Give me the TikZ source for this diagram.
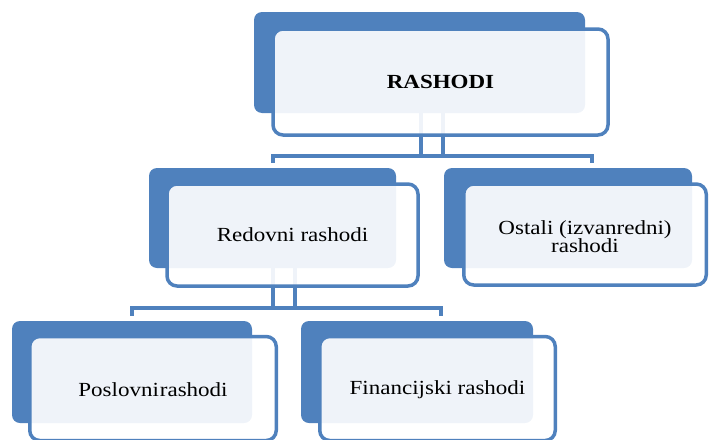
\documentclass[tikz,border=0pt]{standalone}
\usepackage{fontspec}
\setmainfont{Liberation Serif}[FakeStretch=1.15]
\definecolor{sablue}{RGB}{79,129,189}
\tikzset{
  backbox/.style={fill=sablue, rounded corners=8pt, inner sep=0pt},
  frontbox/.style={fill=white, fill opacity=0.91, text opacity=1, draw=sablue, line width=3.5pt,
    rounded corners=10pt, inner sep=0pt, align=center, font=\fontsize{20}{19}\selectfont},
  conn/.style={draw=sablue, line width=4pt}
}
\newcommand{\lowerby}[2]{\raisebox{-#1}[\height][\depth]{#2}}
\begin{document}
\begin{tikzpicture}[x=1pt,y=-1pt]
\useasboundingbox (0,0) rectangle (709,439);
\clip (0,0) rectangle (709,439);
% back boxes
\node[backbox, minimum width=331pt, minimum height=101pt] (topB) at (419.5,62.5) {};
\node[backbox, minimum width=247pt, minimum height=100pt] (redB) at (272.5,218) {};
\node[backbox, minimum width=248pt, minimum height=100pt] (ostB) at (568,218) {};
\node[backbox, minimum width=240pt, minimum height=102pt] (posB) at (132,372) {};
\node[backbox, minimum width=232pt, minimum height=102pt] (finB) at (417,372) {};
% connectors
\coordinate (b1L) at (273,156);
\coordinate (b1R) at (591.5,156);
\coordinate (b2L) at (132,307.5);
\coordinate (b2R) at (440.5,307.5);
\draw[conn] ([xshift=1.5pt]topB.south) -- ([xshift=1.5pt]topB.south |- b1L);
\draw[conn] ([xshift=23.5pt]topB.south) -- ([xshift=23.5pt]topB.south |- b1L);
\draw[conn] ([yshift=5pt]redB.north -| b1L) -- (b1L) -- (b1R) -- ([yshift=5pt]ostB.north -| b1R);
\draw[conn] (redB.south) -- (redB.south |- b2L);
\draw[conn] ([xshift=22.5pt]redB.south) -- ([xshift=22.5pt]redB.south |- b2L);
\draw[conn] ([yshift=5pt]posB.north -| b2L) -- (b2L) -- (b2R) -- ([yshift=5pt]finB.north -| b2R);
% front boxes
\node[frontbox, minimum width=335pt, minimum height=106pt] (top) at (440.5,82) {\textbf{RASHODI}};
\node[frontbox, minimum width=251pt, minimum height=102pt] (red) at (292.5,235) {Redovni rashodi};
\node[frontbox, minimum width=242.5pt, minimum height=101pt] (ost) at (585,234.5) {\lowerby{5pt}{\begin{tabular}{@{}c@{}}Ostali (izvanredni)\\[-1pt]rashodi\end{tabular}}};
\node[frontbox, minimum width=246.5pt, minimum height=104pt] (pos) at (153,388.5) {\lowerby{1.5pt}{Poslovni\hspace{0.05em}rashodi}};
\node[frontbox, minimum width=235.5pt, minimum height=104pt] (fin) at (437.5,388.5) {\lowerby{1.5pt}{Financijski rashodi}};
\end{tikzpicture}
\end{document}
